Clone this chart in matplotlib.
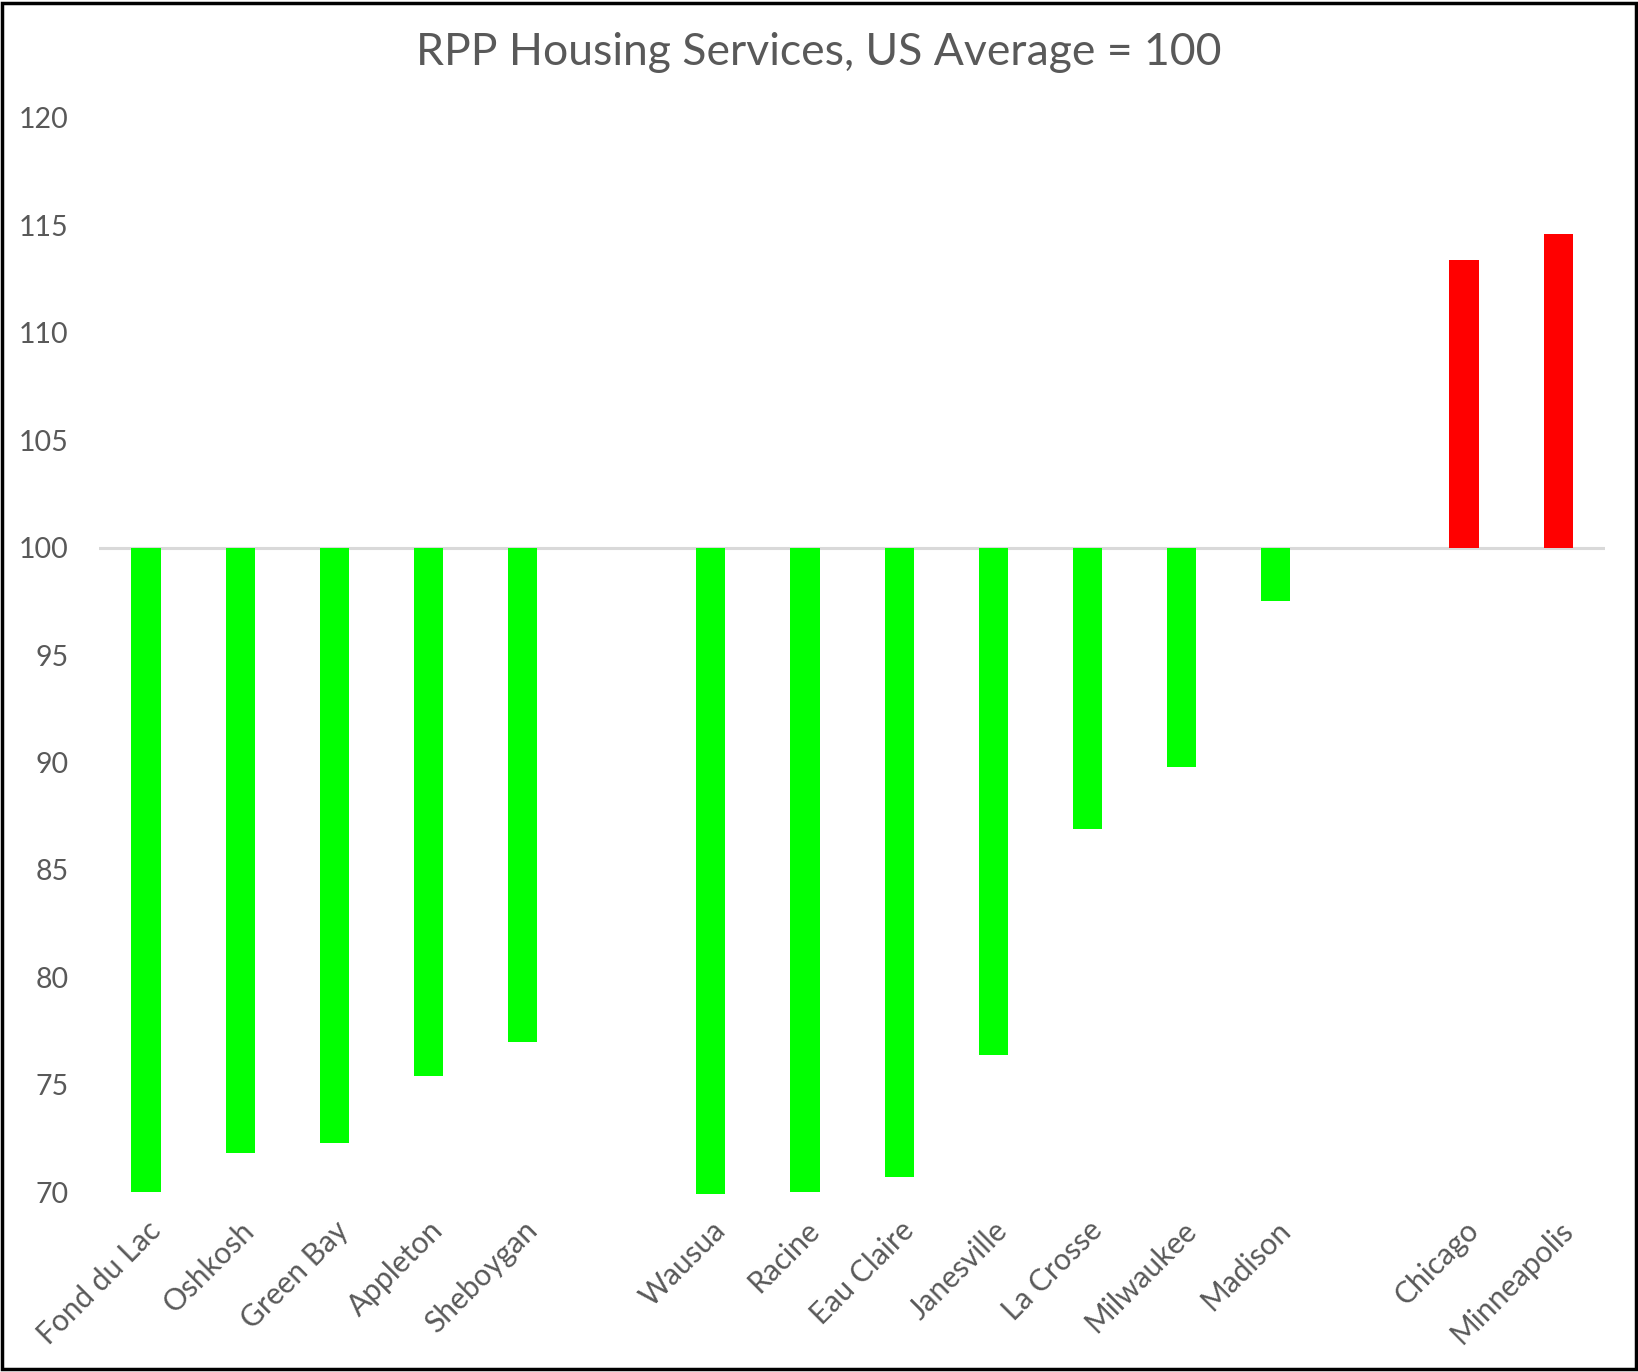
import numpy as np
import matplotlib.pyplot as plt
from matplotlib.patches import Rectangle

plt.rcParams['font.family'] = ['Lato', 'DejaVu Sans']

# dados (base = 100, barras partem de 100)
cities = ['Fond du Lac', 'Oshkosh', 'Green Bay', 'Appleton', 'Sheboygan', '',
          'Wausua', 'Racine', 'Eau Claire', 'Janesville', 'La Crosse', 'Milwaukee',
          'Madison', '', 'Chicago', 'Minneapolis']
rpp = [70.0, 71.8, 72.3, 75.4, 77.0, np.nan,
       69.9, 70.0, 70.7, 76.4, 86.9, 89.8,
       97.5, np.nan, 113.4, 114.6]
base = 100
yticks = [70, 75, 80, 85, 90, 95, 100, 105, 110, 115, 120]

txt = '#595959'
fig = plt.figure(figsize=(16.38, 13.72), dpi=100)
ax = fig.add_axes([0.0604, 0.128, 0.9196, 0.786])

x = np.arange(len(cities))
vals = np.array(rpp)
colors = ['#FF0000' if v > base else '#00FF00' for v in np.nan_to_num(vals, nan=base)]
ax.bar(x, vals - base, bottom=base, width=0.31, color=colors, zorder=2)

ax.axhline(base, color='#d9d9d9', lw=2.2, zorder=1)
ax.set_xlim(-0.5, len(cities) - 0.5)
ax.set_ylim(69.8, 120)
ax.set_yticks(yticks)
ax.set_xticks(x)
ax.set_xticklabels(cities, rotation=45, ha='right', rotation_mode='anchor')
ax.tick_params(axis='y', length=0, pad=22, labelsize=20.5, labelcolor=txt)
ax.tick_params(axis='x', length=0, pad=14, labelsize=21.5, labelcolor=txt)
for s in ax.spines.values():
    s.set_visible(False)

fig.suptitle('RPP Housing Services, US Average = 100', y=0.962, va='center',
             fontsize=32, color=txt)

# moldura preta em volta da figura
fig.patches.append(Rectangle((0.0015, 0.002), 0.997, 0.996, transform=fig.transFigure,
                             fill=False, edgecolor='black', lw=2.5))

fig.savefig('out.png', dpi=100)
